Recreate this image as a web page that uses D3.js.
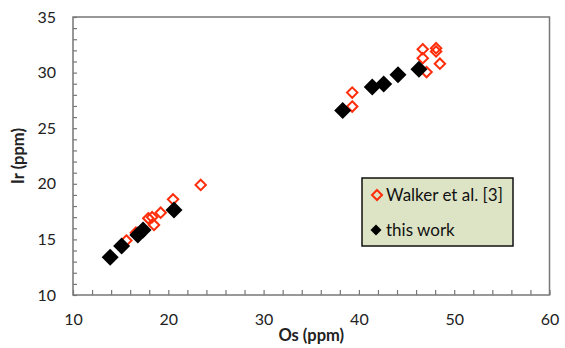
<!DOCTYPE html>
<html><head><meta charset="utf-8">
<script src="https://cdn.jsdelivr.net/npm/d3@7"></script>
<style>body{margin:0;background:#fff}svg{display:block;font-family:Lato,"Open Sans",sans-serif}</style>
</head><body><svg id="c" width="565" height="348"></svg>
<script>
const walkerOs = [15.6, 16.6, 17.9, 18.3, 18.5, 19.2, 20.5, 23.4, 39.3, 39.3, 46.7, 46.7, 48.1, 48.1, 48.5, 47.1];
const walkerIr = [14.9, 15.6, 16.9, 17.0, 16.3, 17.4, 18.6, 19.9, 28.2, 26.95, 32.1, 31.3, 32.2, 31.9, 30.8, 30.05];
const thisOs = [13.9, 15.1, 16.8, 17.35, 20.6, 38.3, 41.4, 42.6, 44.1, 46.3];
const thisIr = [13.4, 14.4, 15.4, 15.85, 17.65, 26.6, 28.7, 28.97, 29.8, 30.3];
const xTicks = [10, 20, 30, 40, 50, 60];
const yTicks = [10, 15, 20, 25, 30, 35];
const seriesNames = ["Walker et al. [3]", "this work"];
const xTitle = "Os (ppm)", yTitle = "Ir (ppm)";

const svg = d3.select("#c");
const L = 73, R = 549.5, T = 17, B = 295;
const x = d3.scaleLinear().domain([10, 60]).range([L, R]);
const y = d3.scaleLinear().domain([10, 35]).range([B, T]);
const axCol = "#777";

// frame
svg.append("rect").attr("x", L).attr("y", T).attr("width", R - L).attr("height", B - T)
  .attr("fill", "none").attr("stroke", axCol).attr("stroke-width", 1.5);

// minor ticks inside
const xa = svg.append("g").attr("transform", `translate(0,${B})`)
  .call(d3.axisTop(x).tickValues(d3.range(10, 60.1, 2)).tickSize(5).tickFormat(""));
const ya = svg.append("g").attr("transform", `translate(${L},0)`)
  .call(d3.axisRight(y).tickValues(d3.range(10, 35.1, 1)).tickSize(4).tickFormat(""));
[xa, ya].forEach(g => { g.select(".domain").remove(); g.selectAll("line").attr("stroke", axCol).attr("stroke-width", 1.2); });

// tick labels
const xl = svg.append("g").attr("transform", `translate(0,${B})`)
  .call(d3.axisBottom(x).tickValues(xTicks).tickSize(0).tickPadding(19).tickFormat(d3.format("d")));
const yl = svg.append("g").attr("transform", `translate(${L},0)`)
  .call(d3.axisLeft(y).tickValues(yTicks).tickSize(0).tickPadding(17).tickFormat(d3.format("d")));
[xl, yl].forEach(g => { g.select(".domain").remove(); g.selectAll("text").attr("font-size", 16).attr("fill", "#222").attr("font-family", "Lato, sans-serif"); });

// titles
svg.append("text").attr("x", (L + R) / 2).attr("y", 341).attr("text-anchor", "middle")
  .attr("font-size", 16.5).attr("font-weight", "bold").attr("fill", "#222").text(xTitle);
svg.append("text").attr("transform", `translate(24,${(T + B) / 2}) rotate(-90)`).attr("text-anchor", "middle")
  .attr("font-size", 16.5).attr("font-weight", "bold").attr("fill", "#222").text(yTitle);

const red = "#ff2d0a";
const diamond = s => `M0,${-s}L${s},0L0,${s}L${-s},0Z`;

svg.append("g").selectAll("path").data(walkerOs.map((v, i) => [v, walkerIr[i]])).join("path")
  .attr("transform", d => `translate(${x(d[0])},${y(d[1])})`)
  .attr("d", diamond(5.2)).attr("fill", "none").attr("stroke", red).attr("stroke-width", 2);

svg.append("g").selectAll("path").data(thisOs.map((v, i) => [v, thisIr[i]])).join("path")
  .attr("transform", d => `translate(${x(d[0])},${y(d[1])})`)
  .attr("d", diamond(8.5)).attr("fill", "#000");

// legend
const lg = svg.append("g");
lg.append("rect").attr("x", 362).attr("y", 178).attr("width", 151).attr("height", 68)
  .attr("fill", "#dde4c6").attr("stroke", "#111").attr("stroke-width", 1.5);
lg.append("path").attr("transform", "translate(377,195)").attr("d", diamond(5))
  .attr("fill", "none").attr("stroke", red).attr("stroke-width", 2);
lg.append("path").attr("transform", "translate(376,230)").attr("d", diamond(5.5)).attr("fill", "#000");
lg.append("text").attr("x", 386).attr("y", 201).attr("font-size", 17).attr("fill", "#111").text(seriesNames[0]);
lg.append("text").attr("x", 386).attr("y", 236).attr("font-size", 17).attr("fill", "#111").text(seriesNames[1]);
</script></body></html>
